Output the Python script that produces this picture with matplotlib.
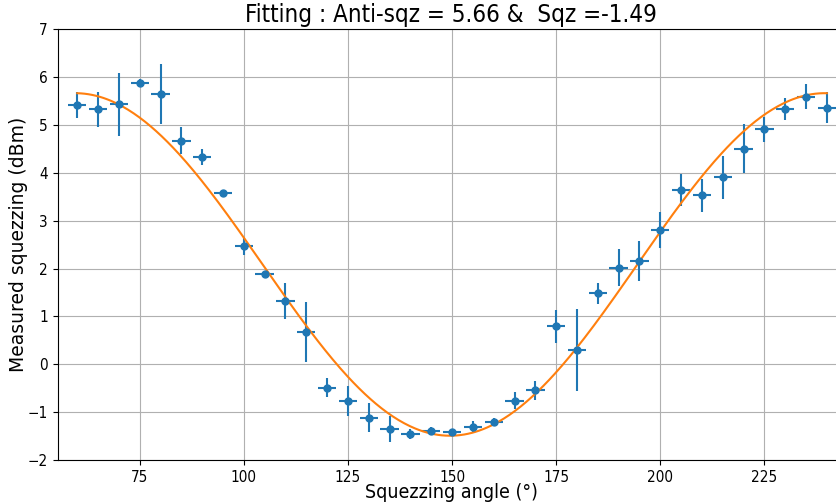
import matplotlib
matplotlib.use("Agg")
import matplotlib.pyplot as plt
import numpy as np

# measured points (angle in degrees, power in dBm)
angles = [60, 65, 70, 75, 80, 85, 90, 95, 100, 105, 110, 115, 120, 125, 130,
          135, 140, 145, 150, 155, 160, 165, 170, 175, 180, 185, 190, 195,
          200, 205, 210, 215, 220, 225, 230, 235, 240]
power = [5.41, 5.32, 5.43, 5.87, 5.64, 4.67, 4.33, 3.57, 2.46, 1.88, 1.32,
         0.68, -0.49, -0.76, -1.11, -1.35, -1.45, -1.39, -1.41, -1.30, -1.20,
         -0.76, -0.54, 0.79, 0.30, 1.48, 2.02, 2.16, 2.80, 3.64, 3.53, 3.90,
         4.50, 4.91, 5.33, 5.59, 5.36]
power_err = [0.27, 0.37, 0.66, 0.09, 0.62, 0.28, 0.16, 0.03, 0.18, 0.03, 0.37,
             0.63, 0.20, 0.31, 0.31, 0.27, 0.11, 0.09, 0.05, 0.11, 0.08,
             0.18, 0.20, 0.34, 0.85, 0.22, 0.39, 0.42, 0.37, 0.33, 0.34, 0.45,
             0.51, 0.26, 0.23, 0.27, 0.32]
angle_err = 2.2

# fit parameters
anti_sqz = 5.66
sqz = -1.49
phase0 = 59.5

theta = np.linspace(angles[0], angles[-1], 400)
fit = (anti_sqz + sqz) / 2 + (anti_sqz - sqz) / 2 * np.cos(np.radians(2 * (theta - phase0)))

# the original looks horizontally squeezed, condensed glyphs fit it best
plt.rcParams["font.stretch"] = "condensed"

fig = plt.figure(figsize=(8.36, 5.04), dpi=100)
# right edge of the axes runs a little past the picture, like the original crop
ax = fig.add_axes([0.069, 0.087, 0.941, 0.8555])

ax.errorbar(angles, power, yerr=power_err, xerr=angle_err, fmt="o",
            markersize=5, color="C0", elinewidth=1.5)
ax.plot(theta, fit, color="C1", linewidth=1.5)

ax.set_xlim(55.3, 244.2)
ax.set_ylim(-2, 7)
ax.set_xticks([75, 100, 125, 150, 175, 200, 225])
ax.grid(True)
ax.tick_params(labelsize=11)
ax.set_xlabel("Squezzing angle (°)", fontsize=14, labelpad=-1)
ax.set_ylabel("Measured squezzing (dBm)", fontsize=13.5, fontstretch="normal", labelpad=-0.5)
ax.set_title(f"Fitting : Anti-sqz = {anti_sqz} &  Sqz ={sqz}", fontsize=17.3, pad=5)

fig.savefig("out.png", dpi=100)
